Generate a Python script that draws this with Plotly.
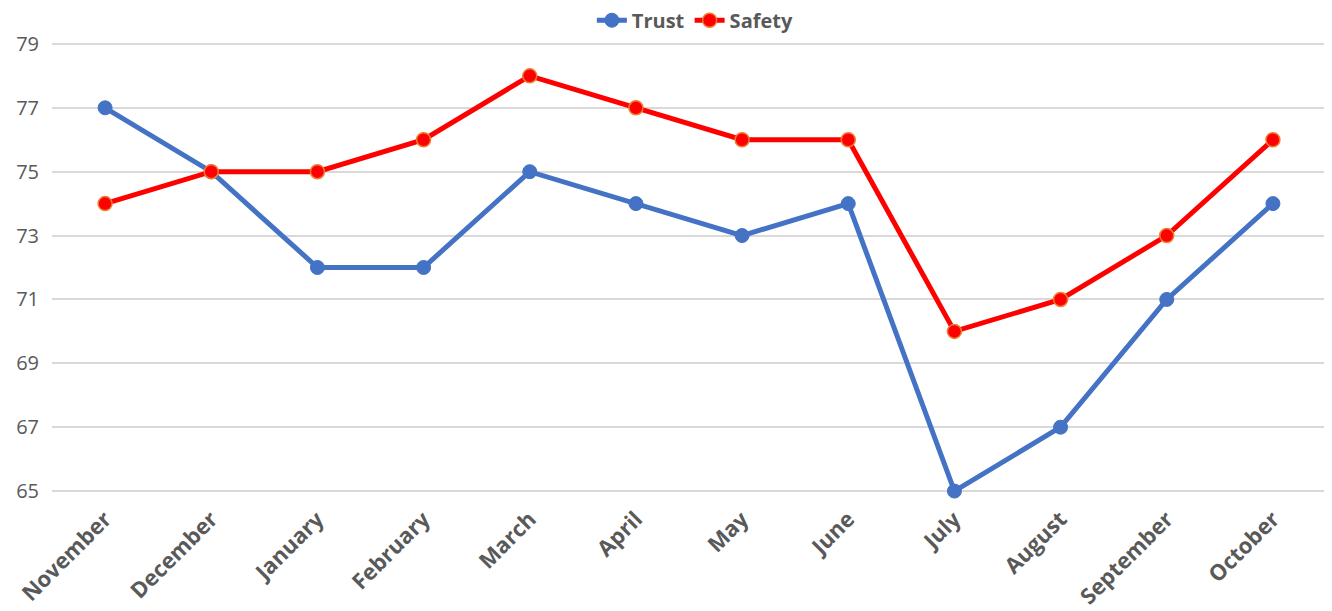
import plotly.graph_objects as go

months = ["November", "December", "January", "February", "March", "April",
          "May", "June", "July", "August", "September", "October"]
trust = [77, 75, 72, 72, 75, 74, 73, 74, 65, 67, 71, 74]
safety = [74, 75, 75, 76, 78, 77, 76, 76, 70, 71, 73, 76]
y_ticks = [65, 67, 69, 71, 73, 75, 77, 79]

fig = go.Figure()
fig.add_trace(go.Scatter(
    x=months, y=trust, name="Trust", mode="lines+markers",
    line=dict(color="#4472C4", width=5),
    marker=dict(color="#4472C4", size=14, line=dict(color="#4472C4", width=1)),
    cliponaxis=False,
))
fig.add_trace(go.Scatter(
    x=months, y=safety, name="Safety", mode="lines+markers",
    line=dict(color="#FF0000", width=5),
    marker=dict(color="#FF0000", size=14, line=dict(color="#ED7D31", width=1.5)),
    cliponaxis=False,
))

fig.update_layout(
    width=1332, height=611,
    margin=dict(l=44, r=14, t=34, b=126, autoexpand=False),
    paper_bgcolor="white", plot_bgcolor="white",
    font=dict(family="Open Sans, Liberation Sans, sans-serif", color="#595959"),
    legend=dict(orientation="h", x=0.505, xanchor="center",
                yref="container", y=0.98, yanchor="middle",
                bgcolor="rgba(0,0,0,0)",
                font=dict(size=20, color="#595959", family="Open Sans", weight="bold")),
    showlegend=True,
)
fig.update_xaxes(
    type="category", tickangle=-45, showgrid=False, showline=False,
    ticks="", tickfont=dict(size=22, color="#595959", family="Open Sans", weight="bold"),
    range=[-0.5, 11.5], automargin=False, ticklabelstandoff=8,
)
fig.update_yaxes(
    range=[64.94, 79.06], tickvals=y_ticks, showgrid=True, gridcolor="#D9D9D9",
    gridwidth=1.5, zeroline=False, showline=False, ticks="",
    tickfont=dict(size=20, color="#595959", family="Open Sans"),
    ticklabelstandoff=12, automargin=False,
)

fig.write_html("out.html")
